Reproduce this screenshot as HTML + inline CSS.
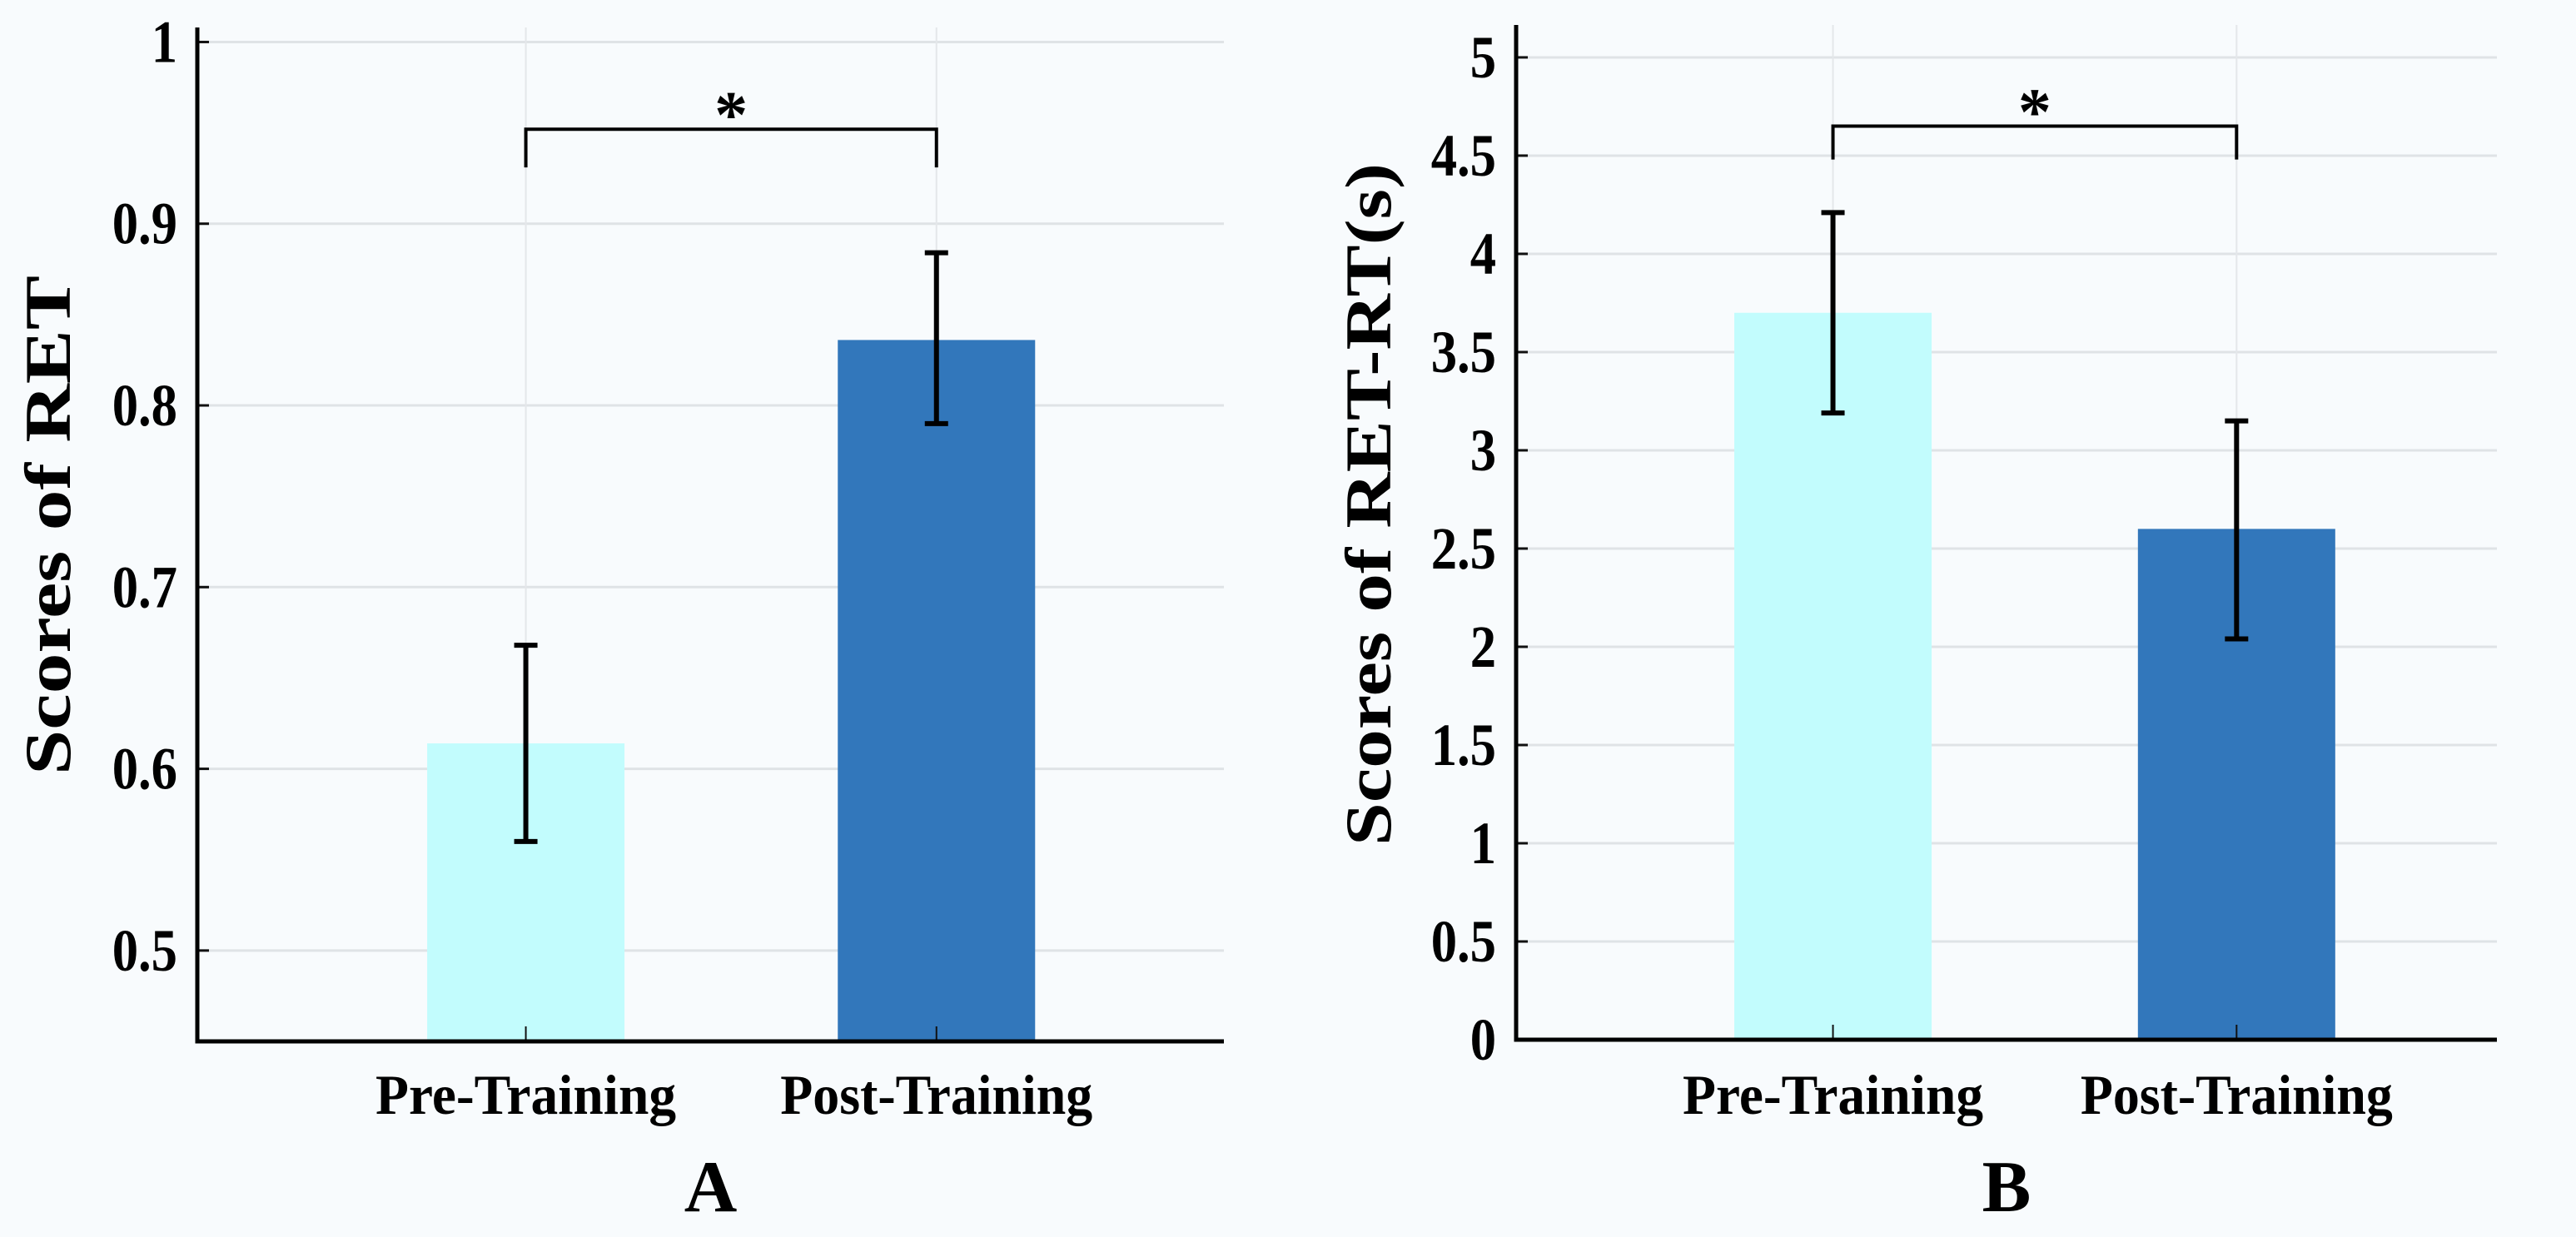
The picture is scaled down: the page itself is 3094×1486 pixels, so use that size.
<!DOCTYPE html>
<html><head><meta charset="utf-8"><style>
html,body{margin:0;padding:0;background:#f8fbfd;}
svg{display:block;}
text{font-family:"Liberation Serif",serif;font-weight:bold;fill:#000;}
</style></head><body>
<svg id="chart" width="3094" height="1486" viewBox="0 0 3094 1486" xmlns="http://www.w3.org/2000/svg">
<rect x="0" y="0" width="3094" height="1486" fill="#f8fbfd"/>
</svg>
<script>
const categories = ["Pre-Training","Post-Training"];
const valuesA = [0.614, 0.836];
const errLowA = [0.560, 0.790];
const errHighA = [0.668, 0.884];
const ticksA = [0.5,0.6,0.7,0.8,0.9,1];
const tickLabelsA = ["0.5","0.6","0.7","0.8","0.9","1"];
const valuesB = [3.70, 2.60];
const errLowB = [3.19, 2.04];
const errHighB = [4.21, 3.15];
const ticksB = [0,0.5,1,1.5,2,2.5,3,3.5,4,4.5,5];
const tickLabelsB = ["0","0.5","1","1.5","2","2.5","3","3.5","4","4.5","5"];
const colors = ["#c2fcfd","#3277bb"];

const svg = document.getElementById('chart');
const NS = "http://www.w3.org/2000/svg";
function mk(tag, attrs, parent){
  const e = document.createElementNS(NS, tag);
  for (const k in attrs) e.setAttribute(k, attrs[k]);
  (parent||svg).appendChild(e);
  return e;
}

function panel(cfg){
  const g = mk('g', {});
  
  
  const {left,right,top,bottom,ymin,ymax,xa,xb} = cfg;
  const y = v => bottom - (v - ymin) / (ymax - ymin) * (bottom - top);
  const x = i => left + (i + 1 - xa) / (xb - xa) * (right - left);
  cfg.ticks.forEach((t,i)=>{
    const gl = mk('line',{x1:left,x2:right,y1:y(t),y2:y(t),stroke:'#dfe3e6','stroke-width':3},g);
    
    
    const tk = mk('line',{x1:left,x2:left+14,y1:y(t),y2:y(t),stroke:'#111','stroke-width':3},g);
    
    
    const tl = mk('text',{x:left-24,y:y(t)+24,'font-size':72,'text-anchor':'end'},g);
    tl.textContent = cfg.tickLabels[i];
    
    
    const w = tl.getComputedTextLength();
    if (w > 0) { tl.setAttribute('textLength', (w*0.87).toFixed(1)); tl.setAttribute('lengthAdjust','spacingAndGlyphs'); }
  });
  categories.forEach((c,i)=>{
    const cx = x(i);
    const vg = mk('line',{x1:cx,x2:cx,y1:top,y2:bottom,stroke:'#e4e7ea','stroke-width':2},g);
    
    
    const b = mk('rect',{x:cx-cfg.barW/2,y:y(cfg.values[i]),width:cfg.barW,height:y(ymin)-y(cfg.values[i]),fill:colors[i]},g);
    
    
    const xt = mk('line',{x1:cx,x2:cx,y1:bottom,y2:bottom-18,stroke:'#111','stroke-width':2},g);
    
    
    const e1 = mk('path',{d:`M${cx} ${y(cfg.lo[i])}V${y(cfg.hi[i])}M${cx-14} ${y(cfg.lo[i])}H${cx+14}M${cx-14} ${y(cfg.hi[i])}H${cx+14}`,stroke:'#000','stroke-width':6,fill:'none'},g);
    
    
    const xl = mk('text',{x:cx,y:1338,'font-size':68,'text-anchor':'middle',textLength:c==='Pre-Training'?361:375,lengthAdjust:'spacingAndGlyphs'},g);
    xl.textContent = c;
    
    
  });
  const br = mk('path',{d:`M${x(0)} ${y(cfg.brLow)}V${y(cfg.brTop)}H${x(1)}V${y(cfg.brLow)}`,stroke:'#000','stroke-width':4,fill:'none'},g);
  
  
  const st = mk('text',{x:(x(0)+x(1))/2,y:y(cfg.brTop)+10,'font-size':80,'text-anchor':'middle'},g);
  st.textContent='*';
  
  
  const ax = mk('path',{d:`M${left} ${top}V${bottom}H${right}`,stroke:'#000','stroke-width':5,fill:'none'},g);
  
  
  const yt = mk('text',{x:0,y:0,'font-size':78,'text-anchor':'middle',transform:`translate(${cfg.titleX},${cfg.titleY}) rotate(-90)`,textLength:cfg.titleLen,lengthAdjust:'spacingAndGlyphs'},g);
  yt.textContent = cfg.title;
  
  
  const pl = mk('text',{x:(left+right)/2,y:1455,'font-size':88,'text-anchor':'middle'},g);
  pl.textContent = cfg.panelLabel;
  
  
}

panel({name:'panel-a',left:237,right:1470,top:33,bottom:1251,ymin:0.45,ymax:1.008,xa:0.2,xb:2.7,
  ticks:ticksA,tickLabels:tickLabelsA,values:valuesA,lo:errLowA,hi:errHighA,barW:237,
  brTop:0.952,brLow:0.931,title:'Scores of RET',titleX:84,titleY:631,titleLen:600,panelLabel:'A'});
panel({name:'panel-b',left:1821,right:2999,top:30,bottom:1249,ymin:0,ymax:5.165,xa:0.215,xb:2.645,
  ticks:ticksB,tickLabels:tickLabelsB,values:valuesB,lo:errLowB,hi:errHighB,barW:237,
  brTop:4.65,brLow:4.48,title:'Scores of RET-RT(s)',titleX:1670,titleY:606,titleLen:820,panelLabel:'B'});
</script>
</body></html>
